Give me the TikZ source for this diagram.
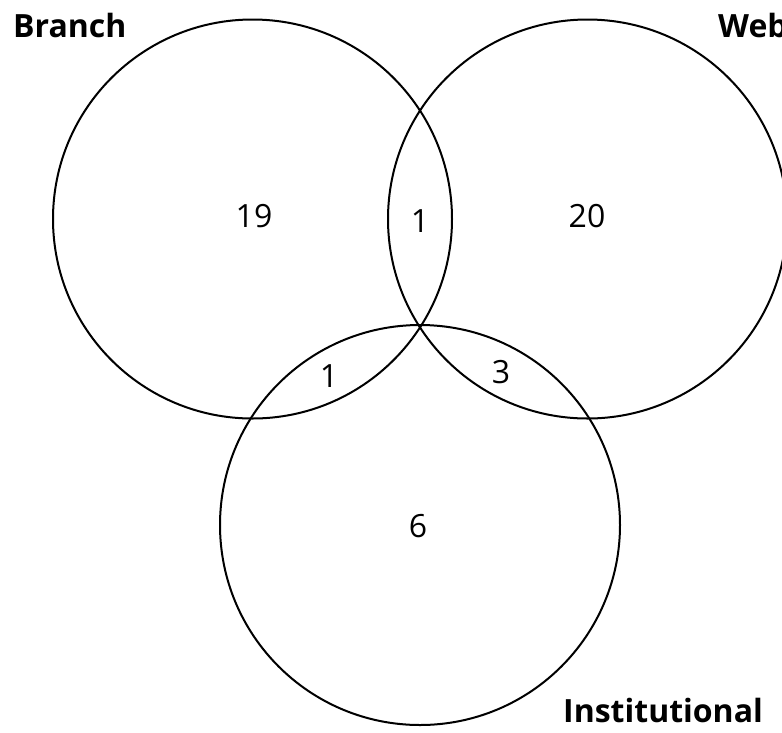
\documentclass[tikz,border=0pt]{standalone}
\usepackage{fontspec}
\setmainfont{Open Sans}
\begin{document}
\begin{tikzpicture}[x=1pt,y=-1pt,
  ring/.style={draw=black,line width=2pt},
  num/.style={anchor=base,inner sep=0pt,font=\fontsize{32}{36}\selectfont},
  setlabel/.style={anchor=base west,inner sep=0pt,font=\fontsize{32}{36}\selectfont\bfseries}]
\useasboundingbox (0,0) rectangle (782,732);
\fill[white] (0,0) rectangle (782,732);
\draw[ring] (252.5,219) circle[radius=199.5];
\draw[ring] (587.5,219) circle[radius=199.5];
\draw[ring] (420,525) circle[radius=200];
\node[num] (b) at (254,227) {19};
\node[num] (bw) at (420,232) {1};
\node[num] (w) at (587,227) {20};
\node[num] (bi) at (329,387) {1};
\node[num] (wi) at (501,383) {3};
\node[num] (i) at (418,537) {6};
\node[setlabel] (lb) at (13,37) {Branch};
\node[setlabel] (lw) at (718,37) {Web};
\node[setlabel] (li) at (563,722) {Institutional};
\end{tikzpicture}
\end{document}
